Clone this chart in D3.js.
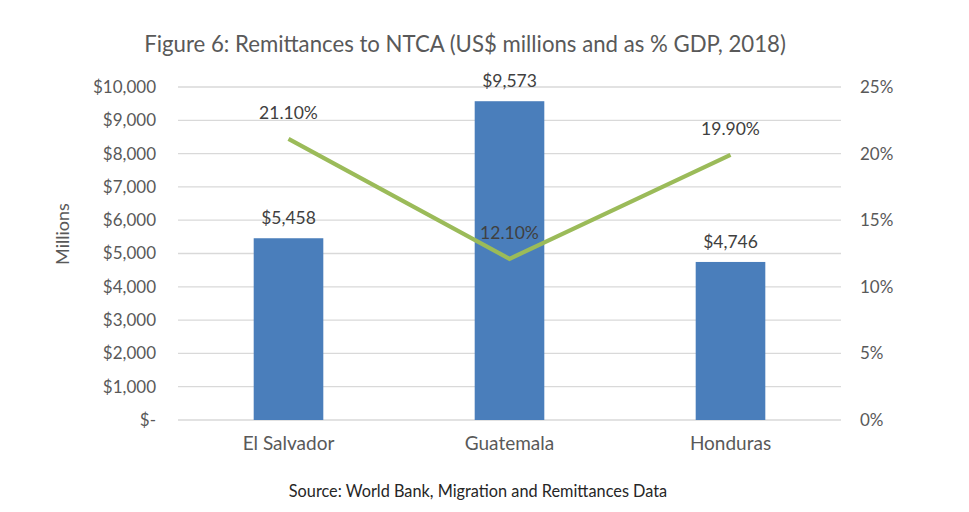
<!DOCTYPE html>
<html>
<head>
<meta charset="utf-8">
<script src="https://cdn.jsdelivr.net/npm/d3@7"></script>
<style>
  html, body { margin: 0; padding: 0; background: #fff; }
  svg { display: block; font-family: Lato, "Noto Sans", sans-serif; }
</style>
</head>
<body>
<svg id="chart" width="969" height="512"></svg>
<script>
const categories = ["El Salvador", "Guatemala", "Honduras"];
const remittances = [5458, 9573, 4746];
const pctGDP = [21.1, 12.1, 19.9];
const leftTicks = [0, 1000, 2000, 3000, 4000, 5000, 6000, 7000, 8000, 9000, 10000];
const rightTicks = [0, 5, 10, 15, 20, 25];
const title = "Figure 6: Remittances to NTCA (US$ millions and as % GDP, 2018)";
const source = "Source: World Bank, Migration and Remittances Data";

const svg = d3.select("#chart");
const m = { left: 178, right: 841, top: 87, bottom: 420 };
const textColor = "#595959";
const FF = "Lato, 'Noto Sans', sans-serif";

const x = d3.scaleBand().domain(categories).range([m.left, m.right]).padding(0);
const yL = d3.scaleLinear().domain([0, 10000]).range([m.bottom, m.top]);
const yR = d3.scaleLinear().domain([0, 25]).range([m.bottom, m.top]);
const barW = x.bandwidth() * 0.315;

// gridlines
svg.append("g").selectAll("line").data(leftTicks).join("line")
  .attr("x1", m.left).attr("x2", m.right)
  .attr("y1", d => yL(d)).attr("y2", d => yL(d))
  .attr("stroke", "#d9d9d9").attr("stroke-width", 1.3);

// left axis
const fmtL = d => d === 0 ? "$-" : "$" + d3.format(",")(d);
const gL = svg.append("g").attr("transform", `translate(${m.left},0)`)
  .call(d3.axisLeft(yL).tickValues(leftTicks).tickFormat(fmtL).tickSize(0).tickPadding(22));
gL.select(".domain").remove();
gL.selectAll("text").attr("fill", textColor).style("font-size", "17px").style("font-family", FF);

// right axis
const gR = svg.append("g").attr("transform", `translate(${m.right},0)`)
  .call(d3.axisRight(yR).tickValues(rightTicks).tickFormat(d => d + "%").tickSize(0).tickPadding(19));
gR.select(".domain").remove();
gR.selectAll("text").attr("fill", textColor).style("font-size", "17px").style("font-family", FF);

// bottom axis labels
const gB = svg.append("g").attr("transform", `translate(0,${m.bottom})`)
  .call(d3.axisBottom(x).tickSize(0).tickPadding(17));
gB.select(".domain").remove();
gB.selectAll("text").attr("fill", textColor).style("font-size", "19px").style("font-family", FF);

// bars
const data = categories.map((c, i) => ({ c, v: remittances[i], p: pctGDP[i] }));
svg.append("g").selectAll("rect").data(data).join("rect")
  .attr("x", d => x(d.c) + x.bandwidth() / 2 - barW / 2)
  .attr("width", barW)
  .attr("y", d => yL(d.v))
  .attr("height", d => yL(0) - yL(d.v))
  .attr("fill", "#4a7ebb");

// line
const line = d3.line().x(d => x(d.c) + x.bandwidth() / 2).y(d => yR(d.p));
svg.append("path").datum(data).attr("d", line)
  .attr("fill", "none").attr("stroke", "#9bbb59").attr("stroke-width", 4.2)
  .attr("stroke-linejoin", "miter");

// bar labels
svg.append("g").selectAll("text").data(data).join("text")
  .attr("x", d => x(d.c) + x.bandwidth() / 2)
  .attr("y", d => yL(d.v) - 14)
  .attr("text-anchor", "middle").attr("fill", "#404040")
  .style("font-size", "17.5px")
  .text(d => "$" + d3.format(",")(d.v));

// line labels
svg.append("g").selectAll("text").data(data).join("text")
  .attr("x", d => x(d.c) + x.bandwidth() / 2)
  .attr("y", d => yR(d.p) - 20)
  .attr("text-anchor", "middle").attr("fill", "#404040")
  .style("font-size", "17.5px")
  .text(d => d3.format(".2f")(d.p) + "%");

// y title
svg.append("text")
  .attr("transform", `translate(69,234) rotate(-90)`)
  .attr("text-anchor", "middle").attr("fill", textColor)
  .style("font-size", "18px").text("Millions");

// title
svg.append("text").attr("x", 465).attr("y", 52)
  .attr("text-anchor", "middle").attr("fill", textColor)
  .style("font-size", "22.2px").text(title);

// source
svg.append("text").attr("x", 478).attr("y", 497)
  .attr("text-anchor", "middle").attr("fill", "#262626")
  .style("font-size", "16.3px").text(source);
</script>
</body>
</html>
